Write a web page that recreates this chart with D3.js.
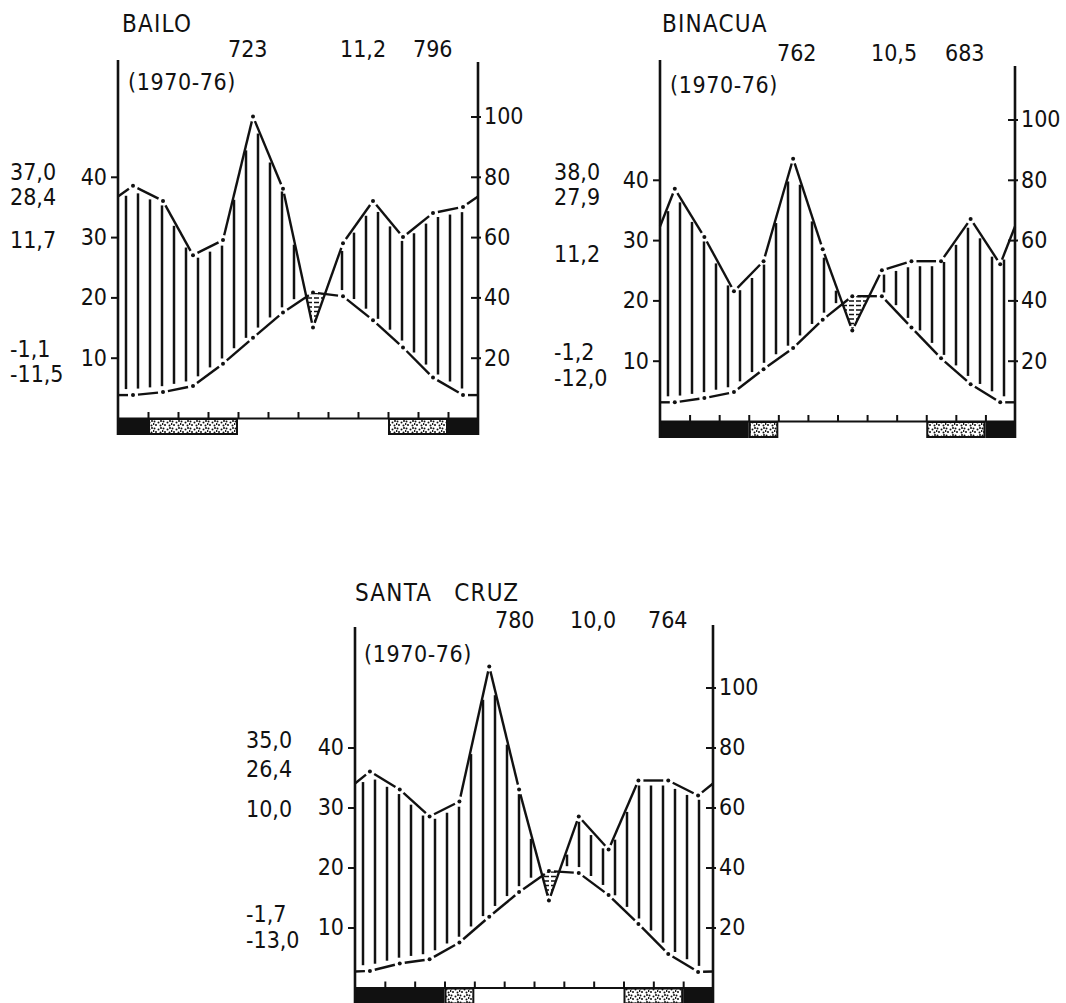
<!DOCTYPE html>
<html>
<head>
<meta charset="utf-8">
<script src="https://cdn.jsdelivr.net/npm/d3@7"></script>
<style>
body { margin: 0; background: #fff; }
svg { display: block; background: #fff; }
text { font-family: "Liberation Sans Narrow", "DejaVu Sans Condensed", "Liberation Sans", sans-serif; font-size: 23px; fill: #111; }
text.title { font-size: 24px; letter-spacing: 1.2px; word-spacing: 3px; }
</style>
</head>
<body>
<svg id="chart" width="1066" height="1003"></svg>
<script>
// monthly precipitation (mm) and mean temperature (deg C), Jan..Dec
var bailoPrecip = [77, 72, 54, 59, 100, 76, 30, 58, 72, 60, 68, 70];
var bailoTemp = [3.8, 4.3, 5.3, 9.0, 13.3, 17.5, 20.8, 20.2, 16.2, 11.7, 6.7, 3.8];
var bailoFrost = [2, 1, 1, 1, 0, 0, 0, 0, 0, 1, 1, 2];
var bailoHeader = ['723', '11,2', '796'];
var bailoStats = ['37,0', '28,4', '11,7', '-1,1', '-11,5'];

var binacuaPrecip = [77, 61, 43, 53, 87, 57, 30, 50, 53, 53, 67, 52];
var binacuaTemp = [3.1, 3.8, 4.8, 8.6, 12.1, 16.8, 20.7, 20.7, 15.5, 10.4, 6.1, 3.1];
var binacuaFrost = [2, 2, 2, 1, 0, 0, 0, 0, 0, 1, 1, 2];
var binacuaHeader = ['762', '10,5', '683'];
var binacuaStats = ['38,0', '27,9', '11,2', '-1,2', '-12,0'];

var santaCruzPrecip = [72, 66, 57, 62, 107, 66, 29, 57, 46, 69, 69, 64];
var santaCruzTemp = [2.75, 4.0, 4.7, 7.5, 11.8, 15.9, 19.4, 19.1, 15.4, 10.6, 5.6, 2.6];
var santaCruzFrost = [2, 2, 2, 1, 0, 0, 0, 0, 0, 1, 1, 2];
var santaCruzHeader = ['780', '10,0', '764'];
var santaCruzStats = ['35,0', '26,4', '10,0', '-1,7', '-13,0'];

var tempTicks = [10, 20, 30, 40];
var precipTicks = [20, 40, 60, 80, 100];
var period = '(1970-76)';

var stations = [
    {key: 'bailo', name: 'BAILO', precip: bailoPrecip, temp: bailoTemp, frost: bailoFrost, header: bailoHeader, stats: bailoStats},
    {key: 'binacua', name: 'BINACUA', precip: binacuaPrecip, temp: binacuaTemp, frost: binacuaFrost, header: binacuaHeader, stats: binacuaStats},
    {key: 'santacruz', name: 'SANTA  CRUZ', precip: santaCruzPrecip, temp: santaCruzTemp, frost: santaCruzFrost, header: santaCruzHeader, stats: santaCruzStats}
];

// where each diagram sits on the page
var layout = {
    bailo: {left: 118, right: 478, base: 418, unit: 6.03, topL: 60, topR: 62,
        title: [122, 32], headerX: [228, 340, 413], headerY: 57, period: [128, 90],
        statsX: 10, statsY: [180, 205, 248, 357, 382]},
    binacua: {left: 660, right: 1015, base: 421, unit: 6.03, topL: 60, topR: 66,
        title: [662, 32], headerX: [777, 871, 945], headerY: 61, period: [670, 93],
        statsX: 554, statsY: [180, 205, 262, 360, 386]},
    santacruz: {left: 355, right: 713, base: 987.5, unit: 6.0, topL: 627, topR: 625,
        title: [355, 601], headerX: [495, 570, 648], headerY: 628, period: [364, 662],
        statsX: 246, statsY: [748, 777, 817, 922, 948]}
};

var ink = '#111';
var svg = d3.select('#chart');

var defs = svg.append('defs');
var stipple = defs.append('pattern')
    .attr('id', 'stipple')
    .attr('width', 9)
    .attr('height', 7)
    .attr('patternUnits', 'userSpaceOnUse');
stipple.append('rect').attr('width', 9).attr('height', 7).attr('fill', '#fff');
[[1.5, 1.5], [5.5, 2.5], [3, 5], [7.5, 5.5], [8, 1], [0.5, 4]].forEach(function(p) {
    stipple.append('circle').attr('cx', p[0]).attr('cy', p[1]).attr('r', 1).attr('fill', ink);
});

// monthly points at month centres, closed at both axes with the Dec/Jan mean
function withEdges(vals) {
    var edge = (vals[0] + vals[11]) / 2;
    var pts = [{m: 0, v: edge, dot: false}];
    vals.forEach(function(v, i) {
        pts.push({m: i + 0.5, v: v, dot: true});
    });
    pts.push({m: 12, v: edge, dot: false});
    return pts;
}

function valueAt(pts, m) {
    for (var i = 0; i < pts.length - 1; i++) {
        if (m <= pts[i + 1].m) {
            var t = (m - pts[i].m) / (pts[i + 1].m - pts[i].m);
            return pts[i].v + t * (pts[i + 1].v - pts[i].v);
        }
    }
    return pts[pts.length - 1].v;
}

function drawStation(st, lay) {
    var g = svg.append('g').attr('class', st.key);
    var barH = 17;
    var gap = 5;

    var x = d3.scaleLinear().domain([0, 12]).range([lay.left, lay.right]);
    var yT = d3.scaleLinear().domain([0, 10]).range([lay.base, lay.base - 10 * lay.unit]);
    var yP = d3.scaleLinear().domain([0, 20]).range([lay.base, lay.base - 10 * lay.unit]);

    var tPts = withEdges(st.temp);
    var pPts = withEdges(st.precip);

    // dry period: temperature curve above precipitation curve
    var samples = d3.range(0, 12.001, 0.02);
    var clipId = 'dry-' + st.key;
    defs.append('clipPath').attr('id', clipId).append('path')
        .attr('d', d3.area()
            .x(function(m) { return x(m); })
            .y0(function(m) { return yP(valueAt(pPts, m)); })
            .y1(function(m) { return Math.min(yP(valueAt(pPts, m)), yT(valueAt(tPts, m))); })(samples));

    g.append('g')
        .attr('clip-path', 'url(#' + clipId + ')')
        .selectAll('line')
        .data(d3.range(lay.base - 3, lay.topL, -4.5))
        .enter().append('line')
        .attr('x1', lay.left).attr('x2', lay.right)
        .attr('y1', function(d) { return d; })
        .attr('y2', function(d) { return d; })
        .attr('stroke', ink)
        .attr('stroke-width', 1.5)
        .attr('stroke-dasharray', '5,2');

    // humid period: vertical hatching
    var hatch = d3.range(lay.left + 8, lay.right - 4, 12).map(function(px) {
        var m = x.invert(px);
        return {x: px, top: yP(valueAt(pPts, m)) + 5, bottom: yT(valueAt(tPts, m)) - 6};
    }).filter(function(d) {
        return d.bottom - d.top > 4;
    });

    g.append('g')
        .selectAll('line')
        .data(hatch)
        .enter().append('line')
        .attr('x1', function(d) { return d.x; })
        .attr('x2', function(d) { return d.x; })
        .attr('y1', function(d) { return d.top; })
        .attr('y2', function(d) { return d.bottom; })
        .attr('stroke', ink)
        .attr('stroke-width', 2.5);

    // curves: dots at the months, short gaps around each dot
    function drawCurve(pts, y) {
        var segs = d3.pairs(pts).map(function(pr) {
            var a = pr[0], b = pr[1];
            var ax = x(a.m), ay = y(a.v), bx = x(b.m), by = y(b.v);
            var len = Math.hypot(bx - ax, by - ay);
            var ga = a.dot ? gap : 0, gb = b.dot ? gap : 0;
            var ux = (bx - ax) / len, uy = (by - ay) / len;
            return {x1: ax + ux * ga, y1: ay + uy * ga, x2: bx - ux * gb, y2: by - uy * gb, ok: len > ga + gb + 2};
        }).filter(function(d) { return d.ok; });

        var cg = g.append('g');
        cg.selectAll('line')
            .data(segs)
            .enter().append('line')
            .attr('x1', function(d) { return d.x1; })
            .attr('y1', function(d) { return d.y1; })
            .attr('x2', function(d) { return d.x2; })
            .attr('y2', function(d) { return d.y2; })
            .attr('stroke', ink)
            .attr('stroke-width', 2.4);
        cg.selectAll('circle')
            .data(pts.filter(function(d) { return d.dot; }))
            .enter().append('circle')
            .attr('cx', function(d) { return x(d.m); })
            .attr('cy', function(d) { return y(d.v); })
            .attr('r', 2)
            .attr('fill', ink);
    }
    drawCurve(pPts, yP);
    drawCurve(tPts, yT);

    // frost bar under the month axis
    var runs = [];
    st.frost.forEach(function(c, i) {
        var last = runs[runs.length - 1];
        if (last && last.code === c) {
            last.end = i + 1;
        } else {
            runs.push({code: c, start: i, end: i + 1});
        }
    });
    g.append('g')
        .selectAll('rect')
        .data(runs.filter(function(r) { return r.code > 0; }))
        .enter().append('rect')
        .attr('x', function(r) { return x(r.start) + (r.code === 1 ? 1 : 0); })
        .attr('y', function(r) { return lay.base + (r.code === 1 ? 1 : 0); })
        .attr('width', function(r) { return x(r.end) - x(r.start) - (r.code === 1 ? 2 : 0); })
        .attr('height', function(r) { return barH - (r.code === 1 ? 2 : 0); })
        .attr('fill', function(r) { return r.code === 2 ? ink : 'url(#stipple)'; })
        .attr('stroke', ink)
        .attr('stroke-width', function(r) { return r.code === 2 ? 0 : 2; });

    // month axis
    g.append('g')
        .attr('transform', 'translate(0,' + lay.base + ')')
        .call(d3.axisTop(x).tickValues(d3.range(1, 12)).tickSize(6).tickSizeOuter(0).tickFormat(''))
        .call(function(a) {
            a.selectAll('path, line').attr('stroke', ink).attr('stroke-width', 2);
        });

    // vertical axes
    g.append('line')
        .attr('x1', lay.left).attr('x2', lay.left)
        .attr('y1', lay.topL).attr('y2', lay.base + barH)
        .attr('stroke', ink).attr('stroke-width', 2.6);
    g.append('line')
        .attr('x1', lay.right).attr('x2', lay.right)
        .attr('y1', lay.topR).attr('y2', lay.base + barH)
        .attr('stroke', ink).attr('stroke-width', 2.6);

    g.append('g')
        .attr('transform', 'translate(' + lay.left + ',0)')
        .call(d3.axisLeft(yT).tickValues(tempTicks).tickSize(7).tickPadding(4))
        .call(function(a) {
            a.select('.domain').remove();
            a.selectAll('line').attr('stroke', ink).attr('stroke-width', 2);
            a.selectAll('text').attr('fill', ink);
        });

    g.append('g')
        .attr('transform', 'translate(' + lay.right + ',0)')
        .call(d3.axisRight(yP).tickValues(precipTicks).tickSize(3).tickPadding(3))
        .call(function(a) {
            a.select('.domain').remove();
            a.selectAll('line').attr('x1', -7).attr('stroke', ink).attr('stroke-width', 2);
            a.selectAll('text').attr('fill', ink);
        });

    // texts
    g.append('text')
        .attr('class', 'title')
        .attr('x', lay.title[0])
        .attr('y', lay.title[1])
        .style('white-space', 'pre')
        .text(st.name);

    g.append('g')
        .selectAll('text')
        .data(st.header)
        .enter().append('text')
        .attr('x', function(d, i) { return lay.headerX[i]; })
        .attr('y', lay.headerY)
        .text(function(d) { return d; });

    g.append('text')
        .attr('x', lay.period[0])
        .attr('y', lay.period[1])
        .attr('letter-spacing', 0.6)
        .text(period);

    g.append('g')
        .selectAll('text')
        .data(st.stats)
        .enter().append('text')
        .attr('x', lay.statsX)
        .attr('y', function(d, i) { return lay.statsY[i]; })
        .text(function(d) { return d; });
}

stations.forEach(function(st) {
    drawStation(st, layout[st.key]);
});
</script>
</body>
</html>
